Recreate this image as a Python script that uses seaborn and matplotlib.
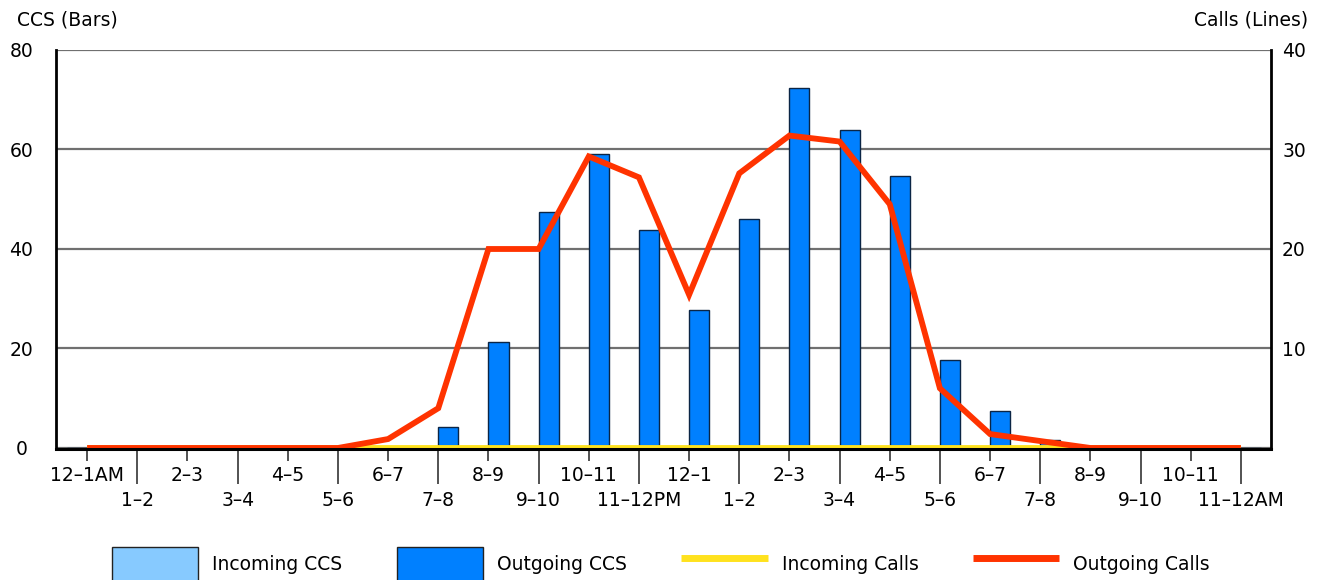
import matplotlib
matplotlib.use("Agg")
import matplotlib.pyplot as plt
import seaborn as sns
import pandas as pd
from matplotlib.patches import Patch
from matplotlib.lines import Line2D

# hour slots, 24 per day (labels repeat, so the slot index is the category)
hour_labels = ["12–1AM", "1–2", "2–3", "3–4", "4–5", "5–6", "6–7", "7–8", "8–9", "9–10", "10–11", "11–12PM",
               "12–1", "1–2", "2–3", "3–4", "4–5", "5–6", "6–7", "7–8", "8–9", "9–10", "10–11", "11–12AM"]
hour_slot = list(range(24))

incoming_ccs = [0, 0, 0, 0, 0, 0, 0, 0, 0, 0, 0, 0, 0, 0, 0, 0, 0, 0, 0, 0, 0, 0, 0, 0]
outgoing_ccs = [0, 0, 0, 0, 0, 0, 0, 4.3, 21.4, 47.5, 59.1, 43.8,
                27.7, 46.1, 72.4, 63.9, 54.7, 17.7, 7.5, 1.6, 0, 0, 0, 0]
incoming_calls = [0, 0, 0, 0, 0, 0, 0, 0, 0, 0, 0, 0, 0, 0, 0, 0, 0, 0, 0, 0, 0, 0, 0, 0]
outgoing_calls = [0, 0, 0, 0, 0, 0, 0.9, 4.0, 20, 20, 29.3, 27.2,
                  15.4, 27.6, 31.4, 30.8, 24.5, 6.0, 1.4, 0.7, 0, 0, 0, 0]

bar_colors = {"Incoming CCS": "#87CAFF", "Outgoing CCS": "#0080FF"}
line_colors = {"Incoming Calls": "#FFE21E", "Outgoing Calls": "#FF3300"}

bars = pd.DataFrame({
    "hour": hour_slot * 2,
    "ccs": incoming_ccs + outgoing_ccs,
    "series": ["Incoming CCS"] * 24 + ["Outgoing CCS"] * 24,
})
calls = pd.DataFrame({
    "hour": hour_slot * 2,
    "calls": incoming_calls + outgoing_calls,
    "series": ["Incoming Calls"] * 24 + ["Outgoing Calls"] * 24,
})

sns.set_style("white")
plt.rcParams["font.family"] = ["DejaVu Sans"]
plt.rcParams["text.color"] = "black"
plt.rcParams["xtick.color"] = "black"
plt.rcParams["ytick.color"] = "black"
plt.rcParams["xtick.labelcolor"] = "black"
plt.rcParams["ytick.labelcolor"] = "black"
fs = 13.5

fig = plt.figure(figsize=(13.22, 5.8), dpi=100)
ax = fig.add_axes([0.0424, 0.2276, 0.9190, 0.6862])

sns.barplot(data=bars, x="hour", y="ccs", hue="series", hue_order=list(bar_colors),
            palette=bar_colors, width=0.8, saturation=1, edgecolor="#0B2545",
            linewidth=1, legend=False, ax=ax)

ax2 = ax.twinx()
sns.lineplot(data=calls, x="hour", y="calls", hue="series", hue_order=list(line_colors),
             palette=line_colors, linewidth=4.2, legend=False, ax=ax2)
for ln in ax2.lines:
    ln.set_clip_on(False)
    ln.set_solid_joinstyle("miter")
    ln.set_solid_capstyle("butt")

ax.set_xlim(-0.62, 23.6)
ax.set_ylim(0, 80)
ax2.set_ylim(0, 40)

# gridlines
ax.set_axisbelow(True)
ax.yaxis.grid(True, color="#707070", linewidth=1.6)
ax.xaxis.grid(False)

# spines (bottom spine lives on the twin so it sits over the zero lines)
for a in (ax, ax2):
    a.spines["top"].set_visible(False)
ax.spines["right"].set_visible(False)
ax.spines["bottom"].set_visible(False)
ax2.spines["left"].set_visible(False)
ax.spines["left"].set_linewidth(2)
ax.spines["left"].set_color("black")
ax2.spines["bottom"].set_position(("outward", 0.9))
ax2.spines["bottom"].set_linewidth(2.2)
ax2.spines["bottom"].set_color("black")
ax2.spines["bottom"].set_zorder(5)
ax2.spines["right"].set_linewidth(2)
ax2.spines["right"].set_color("black")
ax2.tick_params(axis="x", bottom=False, labelbottom=False)

# x ticks: two staggered rows
ax.set_xticks(hour_slot[0::2], hour_labels[0::2])
ax.set_xticks(hour_slot[1::2], hour_labels[1::2], minor=True)
ax.tick_params(axis="x", which="major", length=9, width=1.3, color="#444444",
               pad=3.8, labelsize=fs, bottom=True)
ax.tick_params(axis="x", which="minor", length=26, width=1.3, color="#444444",
               pad=4.8, labelsize=fs, bottom=True)
ax.set_xlabel("")

# y ticks
ax.set_yticks([0, 20, 40, 60, 80])
ax.tick_params(axis="y", length=0, pad=25, labelsize=fs)
for lbl in ax.get_yticklabels():
    lbl.set_horizontalalignment("center")
ax.set_ylabel("")
ax2.set_yticks([10, 20, 30, 40])
ax2.tick_params(axis="y", length=0, pad=8, labelsize=fs)
ax2.set_ylabel("")

fig.text(17 / 1322, 1 - 20 / 580, "CCS (Bars)", ha="left", va="center", fontsize=fs)
fig.text(1308 / 1322, 1 - 20 / 580, "Calls (Lines)", ha="right", va="center", fontsize=fs)

handles = [
    Patch(facecolor=bar_colors["Incoming CCS"], edgecolor="#222222", linewidth=1),
    Patch(facecolor=bar_colors["Outgoing CCS"], edgecolor="#222222", linewidth=1),
    Line2D([], [], color=line_colors["Incoming Calls"], linewidth=5, solid_capstyle="butt"),
    Line2D([], [], color=line_colors["Outgoing Calls"], linewidth=5, solid_capstyle="butt"),
]
labels = ["Incoming CCS", "Outgoing CCS", "Incoming Calls", "Outgoing Calls"]
fig.legend(handles, labels, loc="upper center", bbox_to_anchor=(0.5, 1 - 547 / 580),
           ncol=4, frameon=False, fontsize=fs, handlelength=4.6, handleheight=2.4,
           handletextpad=0.75, columnspacing=2.9, borderpad=0, borderaxespad=0)

fig.savefig("out.png", dpi=100)
